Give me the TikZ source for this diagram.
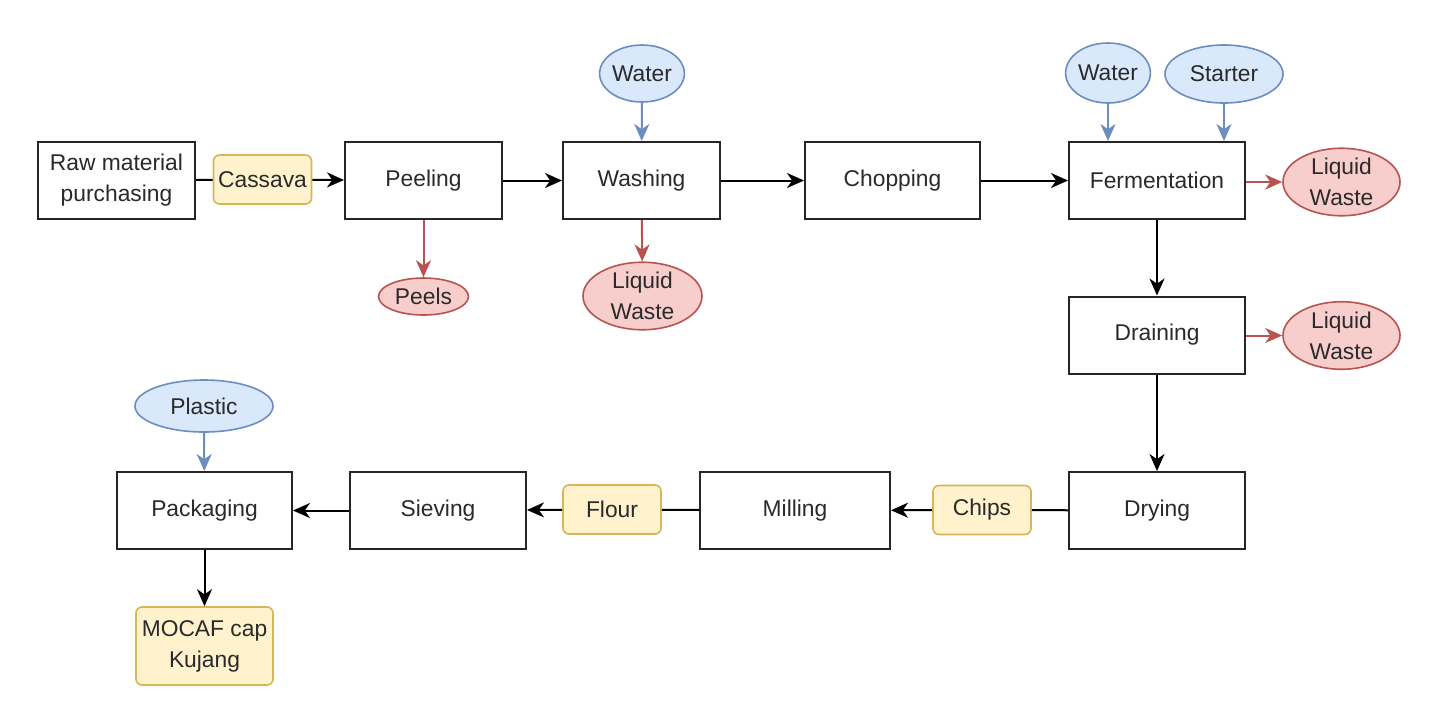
\documentclass[tikz,border=0pt]{standalone}
\usepackage{fontspec}
\setmainfont{Liberation Sans}
\usetikzlibrary{arrows.meta,shapes.geometric}
\definecolor{bfill}{HTML}{DAE8FC}
\definecolor{bline}{HTML}{6C8EBF}
\definecolor{rfill}{HTML}{F8CECC}
\definecolor{rline}{HTML}{B85450}
\definecolor{yfill}{HTML}{FFF2CC}
\definecolor{yline}{HTML}{D6B656}
\definecolor{txt}{HTML}{2A2A2A}
\begin{document}
\begin{tikzpicture}[x=0.5pt,y=-0.5pt,
  every node/.style={font=\fontsize{11.4}{15.5}\selectfont, text=txt, align=center, inner sep=0pt},
  proc/.style={draw=black!85, line width=1pt, fill=white, minimum height=38.5pt},
  mat/.style={draw=yline, fill=yfill, rounded corners=3pt, line width=0.8pt, minimum height=24.5pt, minimum width=49pt},
  inp/.style={ellipse, draw=bline, fill=bfill, line width=0.8pt},
  waste/.style={ellipse, draw=rline, fill=rfill, line width=0.8pt},
  tip/.style={-{Stealth[length=8.5pt,width=7.5pt,inset=2.6pt]}},
  plain/.style={line width=1pt, draw=black},
  flow/.style={plain, tip},
  bflow/.style={line width=1pt, draw=bline, tip, color=bline},
  rflow/.style={line width=1pt, draw=rline, tip, color=rline}
]
\useasboundingbox (0,0) rectangle (1437,714);
\fill[white] (0,0) rectangle (1437,714);

% top row
\node[proc, minimum width=78.5pt] (raw) at (116.5,180.5) {Raw material\\purchasing};
\node[mat] (cassava) at (262.5,179.5) {Cassava};
\node[proc, minimum width=78.5pt] (peeling) at (423.5,180.5) {Peeling};
\node[proc, minimum width=78.5pt] (washing) at (641.5,180.5) {Washing};
\node[proc, minimum width=87.5pt] (chopping) at (892.5,180.5) {Chopping};
\node[proc, minimum width=88pt] (ferm) at (1157,180.5) {Fermentation};

% inputs
\node[inp, minimum width=40pt, minimum height=28.5pt] (water1) at (642,73.5) {Water};
\node[inp, minimum width=40pt, minimum height=30pt] (water2) at (1108,73) {Water};
\node[inp, minimum width=59pt, minimum height=29pt] (starter) at (1224,74) {Starter};
\node[inp, minimum width=69pt, minimum height=26pt] (plastic) at (204,406) {Plastic};

% wastes
\node[waste, minimum width=45pt, minimum height=18.5pt] (peels) at (423.5,296.5) {Peels};
\node[waste, minimum width=59.5pt, minimum height=29pt] (lw1) at (642.5,296) {Liquid\\Waste};
\node[waste, minimum width=58.5pt, minimum height=30pt] (lw2) at (1341.5,182) {Liquid\\Waste};
\node[waste, minimum width=58.5pt, minimum height=29.5pt] (lw3) at (1341.5,335.5) {Liquid\\Waste};

% right column and bottom row
\node[proc, minimum width=88pt] (draining) at (1157,335) {Draining};
\node[proc, minimum width=88pt] (drying) at (1157,510.5) {Drying};
\node[mat] (chips) at (982,510) {Chips};
\node[proc, minimum width=95pt] (milling) at (795,510.5) {Milling};
\node[mat] (flour) at (612,509.5) {Flour};
\node[proc, minimum width=88pt] (sieving) at (438,510.5) {Sieving};
\node[proc, minimum width=87.5pt] (packaging) at (204.5,510.5) {Packaging};
\node[mat, minimum width=68.5pt, minimum height=39pt] (mocaf) at (204.5,646) {MOCAF cap\\Kujang};

% main flow
\draw[plain] (raw) -- (cassava);
\draw[flow] (cassava) -- (peeling);
\draw[flow] (peeling) -- (washing);
\draw[flow] (washing) -- (chopping);
\draw[flow] (chopping) -- (ferm);
\draw[flow] (ferm) -- (draining);
\draw[flow] (draining) -- (drying);
\draw[plain] (drying) -- (chips);
\draw[flow] (chips) -- (milling);
\draw[plain] (milling) -- (flour);
\draw[flow] (flour) -- (sieving);
\draw[flow] (sieving) -- (packaging);
\draw[flow] (packaging) -- (mocaf);

% inputs
\draw[bflow] (water1) -- (washing);
\draw[bflow] (water2.south) -- (water2.south |- ferm.north);
\draw[bflow] (starter.south) -- (starter.south |- ferm.north);
\draw[bflow] (plastic) -- (packaging);

% wastes
\draw[rflow] (peeling) -- (peels);
\draw[rflow] (washing) -- (lw1);
\draw[rflow] (ferm.east |- lw2.west) -- (lw2);
\draw[rflow] (draining.east |- lw3.west) -- (lw3);
\end{tikzpicture}
\end{document}
